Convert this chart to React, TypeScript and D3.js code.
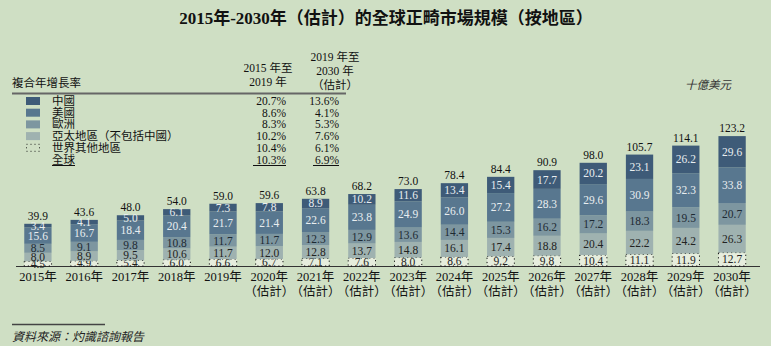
import React from "react";
import * as d3 from "d3";

const years = ["2015","2016","2017","2018","2019","2020","2021","2022","2023","2024","2025","2026","2027","2028","2029","2030"];
const estimated = [false,false,false,false,false,true,true,true,true,true,true,true,true,true,true,true];
const china = [3.4,4.1,5.0,6.1,7.3,7.8,8.9,10.2,11.6,13.4,15.4,17.7,20.2,23.1,26.2,29.6];
const usa = [15.6,16.7,18.4,20.4,21.7,21.4,22.6,23.8,24.9,26.0,27.2,28.3,29.6,30.9,32.3,33.8];
const europe = [8.5,9.1,9.8,10.8,11.7,11.7,12.3,12.9,13.6,14.4,15.3,16.2,17.2,18.3,19.5,20.7];
const apac = [8.0,8.9,9.5,10.6,11.7,12.0,12.8,13.7,14.8,16.1,17.4,18.8,20.4,22.2,24.2,26.3];
const rest = [4.5,4.9,5.4,6.0,6.6,6.7,7.1,7.6,8.0,8.6,9.2,9.8,10.4,11.1,11.9,12.7];
const totals = [39.9,43.6,48.0,54.0,59.0,59.6,63.8,68.2,73.0,78.4,84.4,90.9,98.0,105.7,114.1,123.2];

const legendLabels = ["中國","美國","歐洲","亞太地區（不包括中國）","世界其他地區","全球"];
const cagr1519 = ["20.7%","8.6%","8.3%","10.2%","10.4%","10.3%"];
const cagr1930 = ["13.6%","4.1%","5.3%","7.6%","6.1%","6.9%"];

const BG = "#cfdfc4";
const FONT = "'Liberation Serif','Noto Sans CJK TC',serif";
const seriesDefs = [
  { key: "rest", data: rest, fill: "#e6eddd", text: "#222", dotted: true },
  { key: "apac", data: apac, fill: "#9fb2b0", text: "#222", dotted: false },
  { key: "europe", data: europe, fill: "#7d96a0", text: "#1d2a33", dotted: false },
  { key: "usa", data: usa, fill: "#58778f", text: "#e9eef0", dotted: false },
  { key: "china", data: china, fill: "#3e5b78", text: "#e9eef0", dotted: false },
];
const legendFills = ["#3e5b78","#58778f","#7d96a0","#9fb2b0"];

export default function App() {
  const W = 771, H = 346;
  const x = d3.scaleBand().domain(years).range([15, 755]).paddingInner(0.41).paddingOuter(0.2);
  const y = d3.scaleLinear().domain([0, 123.2]).range([266, 136]);
  const bw = x.bandwidth();

  const bars: any[] = [];
  years.forEach((yr, i) => {
    let cum = 0;
    seriesDefs.forEach((s) => {
      const v = s.data[i];
      const y0 = y(cum), y1 = y(cum + v);
      const mid = (y0 + y1) / 2;
      bars.push(
        <g key={yr + s.key}>
          <rect x={x(yr)} y={y1} width={bw} height={y0 - y1} fill={s.fill}
            stroke={s.dotted ? "#111" : "none"} strokeWidth={s.dotted ? 1 : 0}
            strokeDasharray={s.dotted ? "1.2 3" : undefined} />
          <text x={(x(yr) as number) + bw / 2} y={mid + 4} textAnchor="middle" fontSize={11.5}
            fill={s.text} fontFamily={FONT}>{v.toFixed(1)}</text>
        </g>
      );
      cum += v;
    });
    bars.push(
      <text key={yr + "tot"} x={(x(yr) as number) + bw / 2} y={y(cum) - 4} textAnchor="middle"
        fontSize={11.5} fill="#111" fontFamily={FONT}>{totals[i].toFixed(1)}</text>
    );
    bars.push(
      <text key={yr + "lbl"} x={(x(yr) as number) + bw / 2} y={281} textAnchor="middle"
        fontSize={12.5} fill="#111" fontFamily={FONT}>{yr}年</text>
    );
    if (estimated[i]) {
      bars.push(
        <text key={yr + "est"} x={(x(yr) as number) + bw / 2} y={296} textAnchor="middle"
          fontSize={12.5} fill="#111" fontFamily={FONT}>（估計）</text>
      );
    }
  });

  const rowY = (i: number) => 101 + i * 11.7;

  return (
    <svg width={W} height={H} style={{ position: "absolute", left: 0, top: 0, background: BG }}>
      <rect x={0} y={0} width={W} height={H} fill={BG} />
      <text x={386} y={24} textAnchor="middle" fontSize={17} fontWeight="bold" fill="#111" fontFamily={FONT}>
        2015年-2030年（估計）的全球正畸市場規模（按地區）
      </text>
      <text x={12} y={87} fontSize={11.5} fill="#111" fontFamily={FONT}>複合年增長率</text>
      <text x={268} y={72} textAnchor="middle" fontSize={11.5} fill="#111" fontFamily={FONT}>2015 年至</text>
      <text x={268} y={86} textAnchor="middle" fontSize={11.5} fill="#111" fontFamily={FONT}>2019 年</text>
      <text x={335} y={61} textAnchor="middle" fontSize={11.5} fill="#111" fontFamily={FONT}>2019 年至</text>
      <text x={335} y={75} textAnchor="middle" fontSize={11.5} fill="#111" fontFamily={FONT}>2030 年</text>
      <text x={335} y={89} textAnchor="middle" fontSize={11.5} fill="#111" fontFamily={FONT}>（估計）</text>
      <line x1={12} x2={346} y1={93.5} y2={93.5} stroke="#666" strokeWidth={2} />
      {legendLabels.map((lab, i) => (
        <g key={lab}>
          {i < 4 && <rect x={26} y={rowY(i) - 4} width={14} height={8} fill={legendFills[i]} />}
          {i === 4 && <rect x={26.5} y={rowY(i) - 3.5} width={13} height={7} fill="none" stroke="#222" strokeWidth={1} strokeDasharray="1 3" />}
          <text x={52} y={rowY(i) + 4} fontSize={11.5} fill="#111" fontFamily={FONT}>{lab}</text>
          <text x={286} y={rowY(i) + 4} textAnchor="end" fontSize={11.5} fill="#111" fontFamily={FONT}>{cagr1519[i]}</text>
          <text x={339} y={rowY(i) + 4} textAnchor="end" fontSize={11.5} fill="#111" fontFamily={FONT}>{cagr1930[i]}</text>
        </g>
      ))}
      <line x1={52} x2={75} y1={rowY(5) + 6} y2={rowY(5) + 6} stroke="#111" strokeWidth={1} />
      <line x1={253} x2={286} y1={rowY(5) + 6} y2={rowY(5) + 6} stroke="#111" strokeWidth={1} />
      <line x1={313} x2={339} y1={rowY(5) + 6} y2={rowY(5) + 6} stroke="#111" strokeWidth={1} />
      <text x={731} y={89} textAnchor="end" fontSize={11.5} fontStyle="italic" fill="#333" fontFamily={FONT}>十億美元</text>
      <line x1={16} x2={760} y1={266.5} y2={266.5} stroke="#333" strokeWidth={1.2} />
      {bars}
      <line x1={12} x2={105} y1={324.5} y2={324.5} stroke="#444" strokeWidth={1.5} />
      <text x={12} y={341} fontSize={12} fontStyle="italic" fill="#222" fontFamily={FONT}>資料來源：灼識諮詢報告</text>
    </svg>
  );
}
